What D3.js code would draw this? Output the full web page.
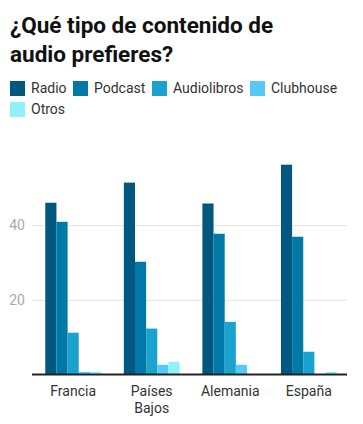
<!DOCTYPE html>
<html>
<head>
<meta charset="utf-8">
<script src="https://cdn.jsdelivr.net/npm/d3@7"></script>
<style>
  body { margin: 0; background: #fff; font-family: Roboto, sans-serif; }
  #chart { width: 363px; height: 424px; }
</style>
</head>
<body>
<div id="chart"></div>
<script>
const countries = ["Francia", "Países Bajos", "Alemania", "España"];
const series = ["Radio", "Podcast", "Audiolibros", "Clubhouse", "Otros"];
const colors = ["#00587f", "#0079a6", "#1ba3d0", "#57c9f8", "#8ef2fd"];
// one array per series, in the order of countries
const radio = [46, 51.4, 45.8, 56.2];
const podcast = [40.9, 30.2, 37.7, 36.9];
const audiolibros = [11.2, 12.3, 14.1, 6.1];
const clubhouse = [0.7, 2.6, 2.6, 0];
const otros = [0.7, 3.4, 0, 0.7];
const yTicks = [20, 40];

const values = [radio, podcast, audiolibros, clubhouse, otros];
const rows = countries.map((c, i) => ({
  country: c,
  vals: series.map((s, j) => ({key: s, value: values[j][i]}))
}));

const W = 363, H = 424;
const plot = {left: 32, right: 347, top: 150.5, bottom: 374.5};

const svg = d3.select("#chart").append("svg")
  .attr("width", W)
  .attr("height", H);

// title
const title = svg.append("text")
  .attr("x", 10)
  .attr("y", 33)
  .style("font-size", "22.5px")
  .style("font-weight", "bold")
  .style("fill", "#111");
title.append("tspan").attr("x", 10).text("¿Qué tipo de contenido de");
title.append("tspan").attr("x", 10).attr("dy", 29).text("audio prefieres?");

// legend
const color = d3.scaleOrdinal().domain(series).range(colors);
const legendPos = [[10, 81], [73, 81], [152, 81], [250, 81], [10, 102]];
const legend = svg.append("g").selectAll("g")
  .data(series)
  .join("g")
    .attr("transform", (d, i) => `translate(${legendPos[i][0]},${legendPos[i][1]})`);
legend.append("rect")
  .attr("width", 15)
  .attr("height", 15)
  .style("fill", d => color(d));
legend.append("text")
  .attr("x", 21)
  .attr("y", 7.5)
  .attr("dy", "0.35em")
  .text(d => d)
  .style("font-size", "14px")
  .style("fill", "#333");

// scales
const x0 = d3.scaleBand()
  .domain(countries)
  .range([plot.left + 1.5, plot.right + 1.5])
  .paddingInner(0.29)
  .paddingOuter(0.15);
const x1 = d3.scaleBand()
  .domain(series)
  .range([0, x0.bandwidth()]);
const y = d3.scaleLinear()
  .domain([0, 60])
  .range([plot.bottom, plot.top]);

// gridlines + tick labels
const yAxis = svg.append("g")
  .attr("transform", `translate(${plot.left},0)`)
  .call(d3.axisLeft(y).tickValues(yTicks).tickSize(-(plot.right - plot.left)).tickPadding(7));
yAxis.select(".domain").remove();
yAxis.selectAll(".tick line").style("stroke", "#e3e3e3");
yAxis.selectAll(".tick text")
  .style("font-family", "Roboto, sans-serif")
  .style("font-size", "14px")
  .style("fill", "#aaa");

// bars
svg.append("g").selectAll("g")
  .data(rows)
  .join("g")
    .attr("transform", d => `translate(${x0(d.country)},0)`)
  .selectAll("rect")
  .data(d => d.vals)
  .join("rect")
    .attr("x", d => x1(d.key))
    .attr("width", x1.bandwidth())
    .attr("y", d => y(d.value))
    .attr("height", d => y(0) - y(d.value))
    .style("fill", d => color(d.key));

// baseline
svg.append("line")
  .attr("x1", plot.left)
  .attr("x2", plot.right)
  .attr("y1", y(0))
  .attr("y2", y(0))
  .style("stroke", "#222")
  .style("stroke-width", 2);

// category labels
const xAxis = svg.append("g")
  .attr("transform", `translate(0,${plot.bottom})`)
  .call(d3.axisBottom(x0).tickSize(0).tickPadding(12));
xAxis.select(".domain").remove();
xAxis.selectAll(".tick text")
  .style("font-family", "Roboto, sans-serif")
  .style("font-size", "14px")
  .style("fill", "#333")
  .call(wrap, 70);

function wrap(text, width) {
  text.each(function() {
    const t = d3.select(this);
    const words = t.text().split(/\s+/);
    const yy = t.attr("y"), dy = parseFloat(t.attr("dy"));
    t.text(null);
    let line = [], lineNo = 0;
    let tspan = t.append("tspan").attr("x", 0).attr("y", yy).attr("dy", dy + "em");
    words.forEach(w => {
      line.push(w);
      tspan.text(line.join(" "));
      if (tspan.node().getComputedTextLength() > width && line.length > 1) {
        line.pop();
        tspan.text(line.join(" "));
        line = [w];
        tspan = t.append("tspan").attr("x", 0).attr("y", yy)
          .attr("dy", (++lineNo * 1.15 + dy) + "em").text(w);
      }
    });
  });
}
</script>
</body>
</html>
